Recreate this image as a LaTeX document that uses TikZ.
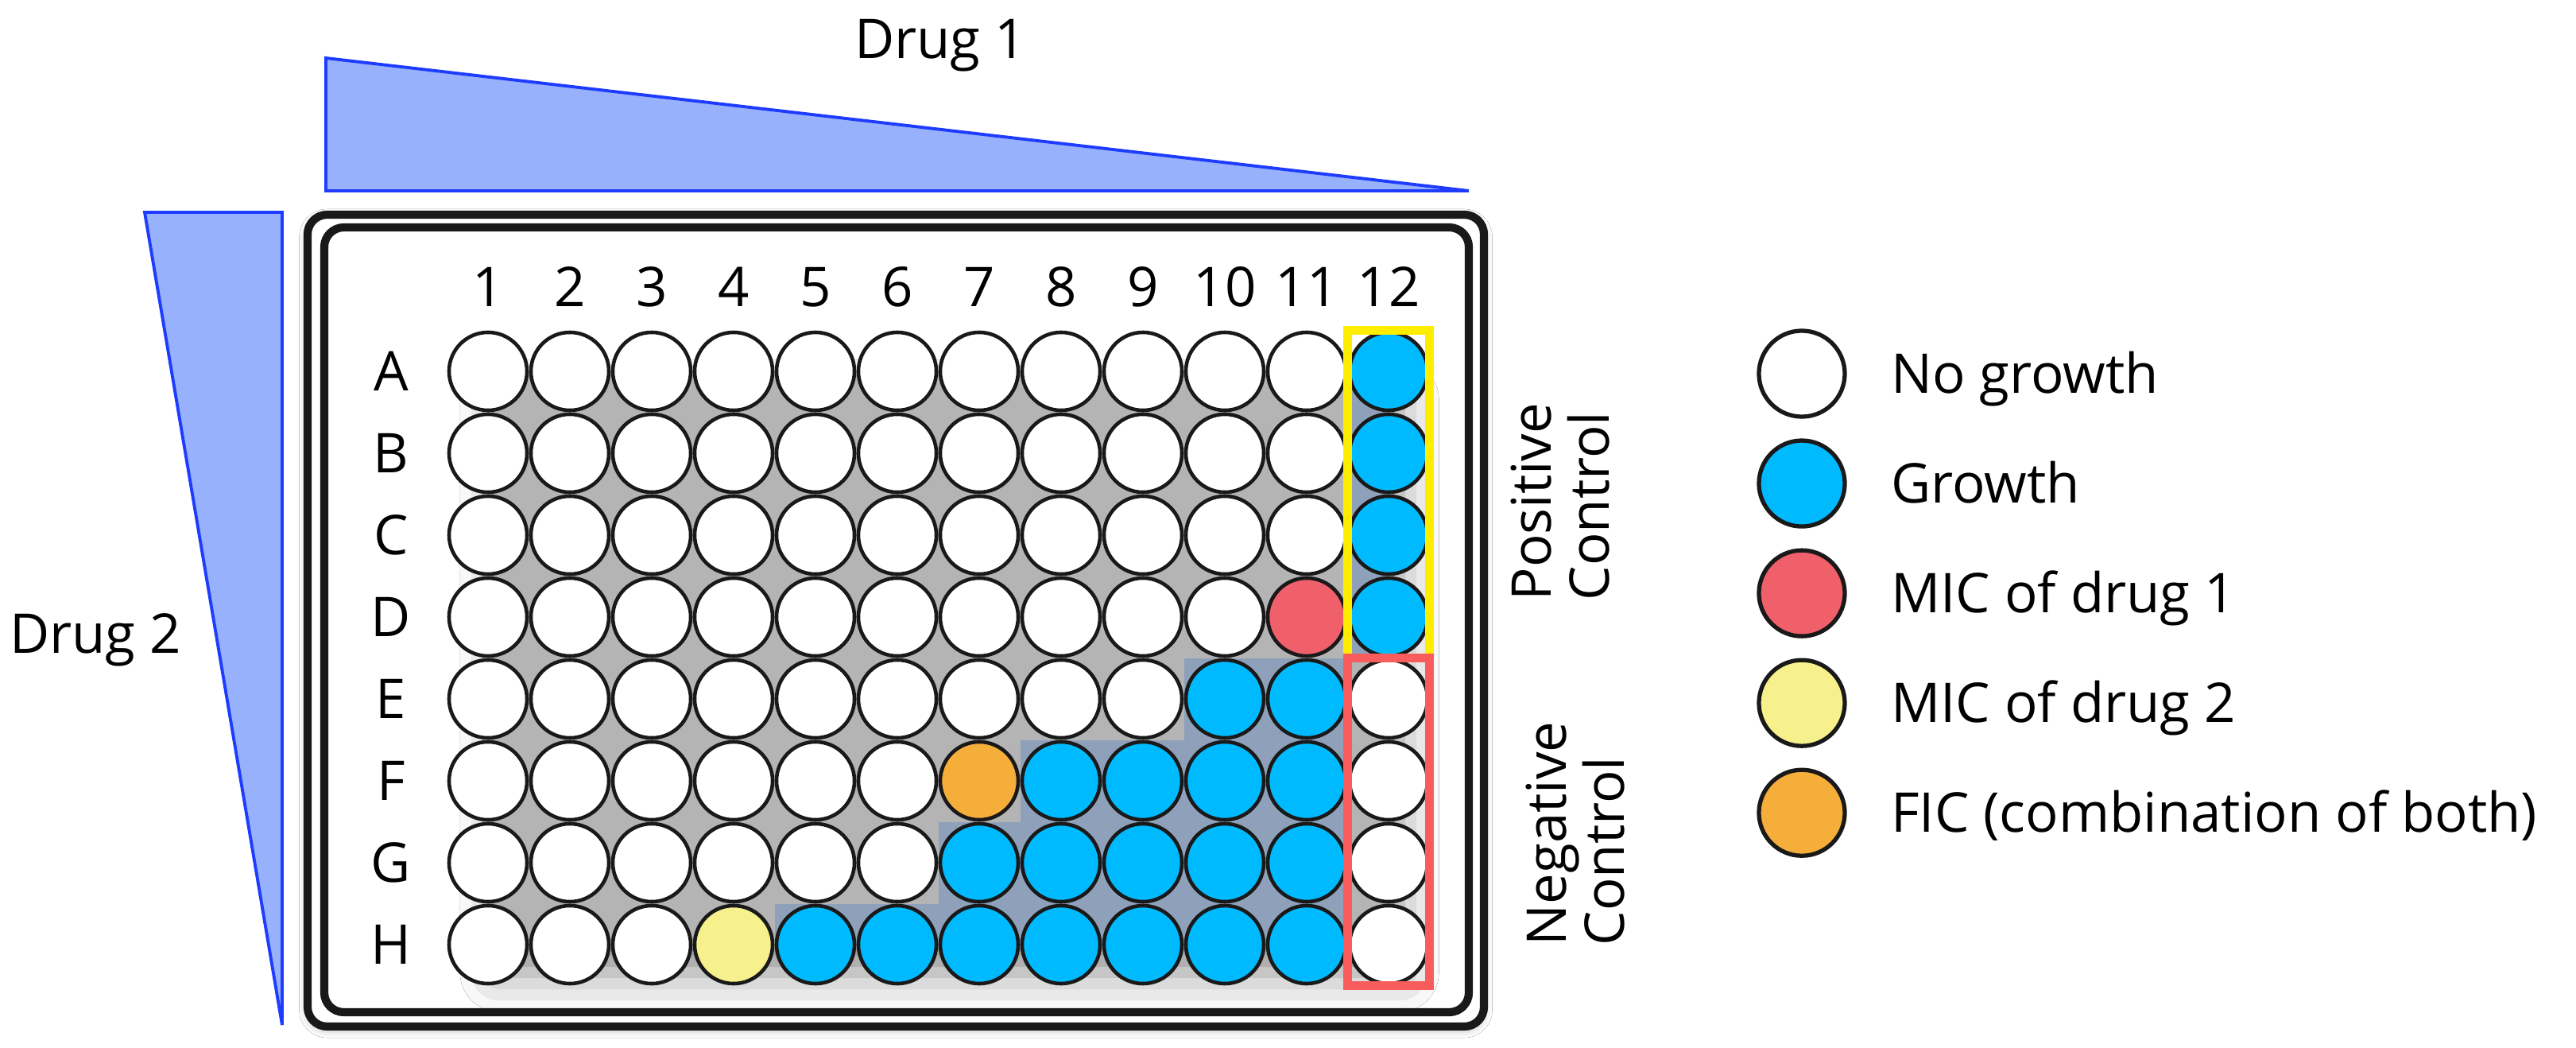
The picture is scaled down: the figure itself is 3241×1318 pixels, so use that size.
\documentclass[tikz,border=0pt]{standalone}
\usepackage{fontspec}
\setmainfont{Open Sans}
\usetikzlibrary{positioning}
\usetikzlibrary{fit}
\usetikzlibrary{shadows.blur}
\definecolor{growth}{HTML}{00BAFF}
\definecolor{micone}{HTML}{EF606A}
\definecolor{mictwo}{HTML}{F6F18C}
\definecolor{fic}{HTML}{F6AE3A}
\definecolor{wedge}{HTML}{97B1FC}
\definecolor{wedgeline}{HTML}{1E3CFF}
\definecolor{posline}{HTML}{FFED00}
\definecolor{negline}{HTML}{F85C5C}
\definecolor{field}{HTML}{B4B4B4}
\definecolor{tint}{HTML}{8FA1BA}
\tikzset{
	txt/.style = {font=\fontsize{19.6pt}{20.8pt}\selectfont, inner sep=0pt,
		text height=14pt, text depth=0pt},% labels, legende
	ctrl_txt/.style = {font=\fontsize{19.6pt}{20.8pt}\selectfont, inner sep=0pt,
		rotate=90, align=left, anchor=south west},% texte vertical
	well/.style = {circle, draw=black!90, fill=white, line width=1.3pt,
		minimum size=0.98cm, inner sep=0pt},% puits
	leg_well/.style = {well, minimum size=1.08cm, line width=1.5pt},% puits legende
	wedge_t/.style = {fill=wedge, draw=wedgeline, line width=1.1pt},% gradient
	plate/.style = {draw=black!90, line width=2.9pt, rounded corners=7pt},
	ctrl_box/.style = {draw, line width=3pt, inner sep=0pt}
}

\begin{document}
\begin{tikzpicture}[x=0.01cm, y=-0.01cm]
	\fill[white] (0,0) rectangle (3241,1318);
	\useasboundingbox (0,0) rectangle (3241,1318);
	% gradients
	\draw[wedge_t] (410,73) -- (410,240) -- (1848,240) -- cycle;
	\draw[wedge_t] (182,267) -- (355,267) -- (355,1289) -- cycle;
	\node[txt] (drug1) at (1183,49) {Drug 1};
	\node[txt] (drug2) at (120,797) {Drug 2};
	% plaque
	\draw[plate, fill=white, blur shadow={shadow xshift=0pt, shadow yshift=-1pt,
		shadow blur radius=3pt, shadow opacity=30}] (387,270) rectangle (1867,1291);
	\draw[plate] (408,286) rectangle (1848,1273);
	\path[blur shadow={shadow xshift=4pt, shadow yshift=-10pt, shadow blur radius=14pt,
		shadow opacity=45}] (614,467) rectangle (1747,1188);
	\fill[field] (614,467) rectangle (1747,1188);
	% puits: ligne/indice/premiere colonne bleue/colonne CMI/couleur CMI
	\def\gr{growth}
	\foreach \r/\ri/\fb/\mc/\ms in {A/0/12/0/white, B/1/12/0/white, C/2/12/0/white,
		D/3/12/11/micone, E/4/10/0/white, F/5/8/7/fic, G/6/7/0/white, H/7/5/4/mictwo}{
		\node[txt] (row\r) at (492,{467+103*\ri}) {\r};
		\foreach \c in {1,...,12}{
			\def\wc{white}
			\ifnum\c<12
				\ifnum\c<\fb\else\def\wc{growth}\fi
				\ifnum\c=\mc\edef\wc{\ms}\fi
			\else
				\ifnum\ri<4\def\wc{growth}\fi
			\fi
			\ifx\wc\gr
				\begin{scope}
					\clip (614,467) rectangle (1747,1188);
					\fill[tint] ({614+103*(\c-1)-51.5},{467+103*\ri-51.5}) rectangle ++(103,103);
				\end{scope}
			\fi
			\node[well, fill=\wc] (\r\c) at ({614+103*(\c-1)},{467+103*\ri}) {};
		}
	}
	\foreach \c in {1,...,12}
		\node[txt, above=0.29cm of A\c] (col\c) {\c};
	% temoins
	\node[ctrl_box, draw=posline, fit=(A12)(D12)] (posctrl) {};
	\node[ctrl_box, draw=negline, fit=(E12)(H12)] (negctrl) {};
	\node[ctrl_txt] (postxt) at (2026,756) {Positive\\Control};
	\node[ctrl_txt] (negtxt) at (2045,1190) {Negative\\Control};
	% legende
	\node[leg_well] (lc1) at (2267,470) {};
	\node[leg_well, fill=growth, below=0.247cm of lc1] (lc2) {};
	\node[leg_well, fill=micone, below=0.247cm of lc2] (lc3) {};
	\node[leg_well, fill=mictwo, below=0.247cm of lc3] (lc4) {};
	\node[leg_well, fill=fic, below=0.247cm of lc4] (lc5) {};
	\node[txt, right=0.55cm of lc1] (lt1) {No growth};
	\node[txt, right=0.55cm of lc2] (lt2) {Growth};
	\node[txt, right=0.55cm of lc3] (lt3) {MIC of drug 1};
	\node[txt, right=0.55cm of lc4] (lt4) {MIC of drug 2};
	\node[txt, right=0.55cm of lc5] (lt5) {FIC (combination of both)};
\end{tikzpicture}
\end{document}
